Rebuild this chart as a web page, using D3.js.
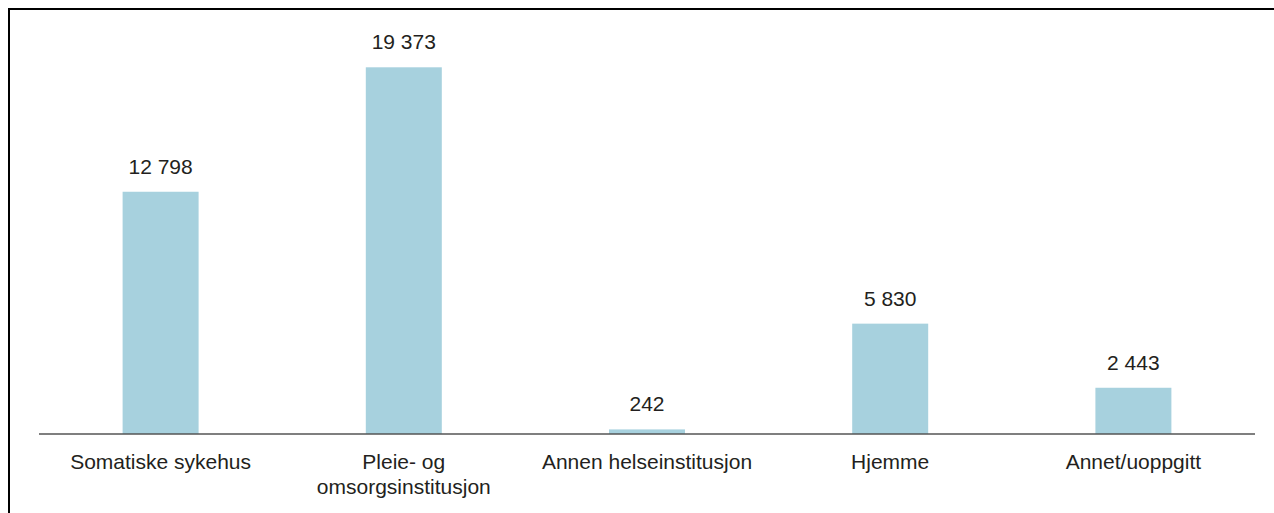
<!DOCTYPE html>
<html>
<head>
<meta charset="utf-8">
<script src="https://cdn.jsdelivr.net/npm/d3@7"></script>
<style>
  body { margin: 0; background: #fff; }
  svg { display: block; }
  text { font-family: "Liberation Sans", Arial, sans-serif; fill: #231f20; }
</style>
</head>
<body>
<div id="chart"></div>
<script>
var width = 1274;
var height = 513;

// data
var categories = ["Somatiske sykehus", "Pleie- og omsorgsinstitusjon", "Annen helseinstitusjon", "Hjemme", "Annet/uoppgitt"];
var labelLines = [["Somatiske sykehus"], ["Pleie- og", "omsorgsinstitusjon"], ["Annen helseinstitusjon"], ["Hjemme"], ["Annet/uoppgitt"]];
var values = [12798, 19373, 242, 5830, 2443];

var axisY = 434;
var left = 39, right = 1255;

var svg = d3.select("#chart").append("svg")
  .attr("width", width)
  .attr("height", height);

// frame (left + top only)
svg.append("path")
  .attr("d", "M9," + height + "V9H" + width)
  .attr("fill", "none")
  .attr("stroke", "#000")
  .attr("stroke-width", 2);

var x = d3.scaleBand()
  .domain(categories)
  .range([left, right])
  .padding(0);

var y = d3.scaleLinear()
  .domain([0, 19373])
  .range([axisY, 67.3]);

var barW = x.bandwidth() * 0.3125;

svg.append("g")
  .selectAll("rect")
  .data(values)
  .enter().append("rect")
    .attr("x", function(d, i) { return x(categories[i]) + x.bandwidth() / 2 - barW / 2; })
    .attr("y", function(d) { return y(d); })
    .attr("width", barW)
    .attr("height", function(d) { return axisY - y(d); })
    .attr("fill", "#a7d1de");

// value labels
var fmt = function(v) { return d3.format(",")(v).replace(/,/g, " "); };
svg.append("g")
  .selectAll("text")
  .data(values)
  .enter().append("text")
    .attr("x", function(d, i) { return x(categories[i]) + x.bandwidth() / 2; })
    .attr("y", function(d) { return y(d) - 18; })
    .attr("text-anchor", "middle")
    .style("font-size", "21px")
    .text(fmt);

// axis line
svg.append("line")
  .attr("x1", left).attr("x2", right)
  .attr("y1", axisY).attr("y2", axisY)
  .attr("stroke", "#555")
  .attr("stroke-width", 1.5);

// category labels
var cat = svg.append("g")
  .selectAll("text")
  .data(categories)
  .enter().append("text")
    .attr("x", function(d) { return x(d) + x.bandwidth() / 2; })
    .attr("y", axisY + 35)
    .attr("text-anchor", "middle")
    .style("font-size", "21px");

cat.each(function(d, i) {
  var t = d3.select(this);
  labelLines[i].forEach(function(line, j) {
    t.append("tspan")
      .attr("x", x(d) + x.bandwidth() / 2)
      .attr("dy", j == 0 ? 0 : 24.5)
      .text(line);
  });
});
</script>
</body>
</html>
